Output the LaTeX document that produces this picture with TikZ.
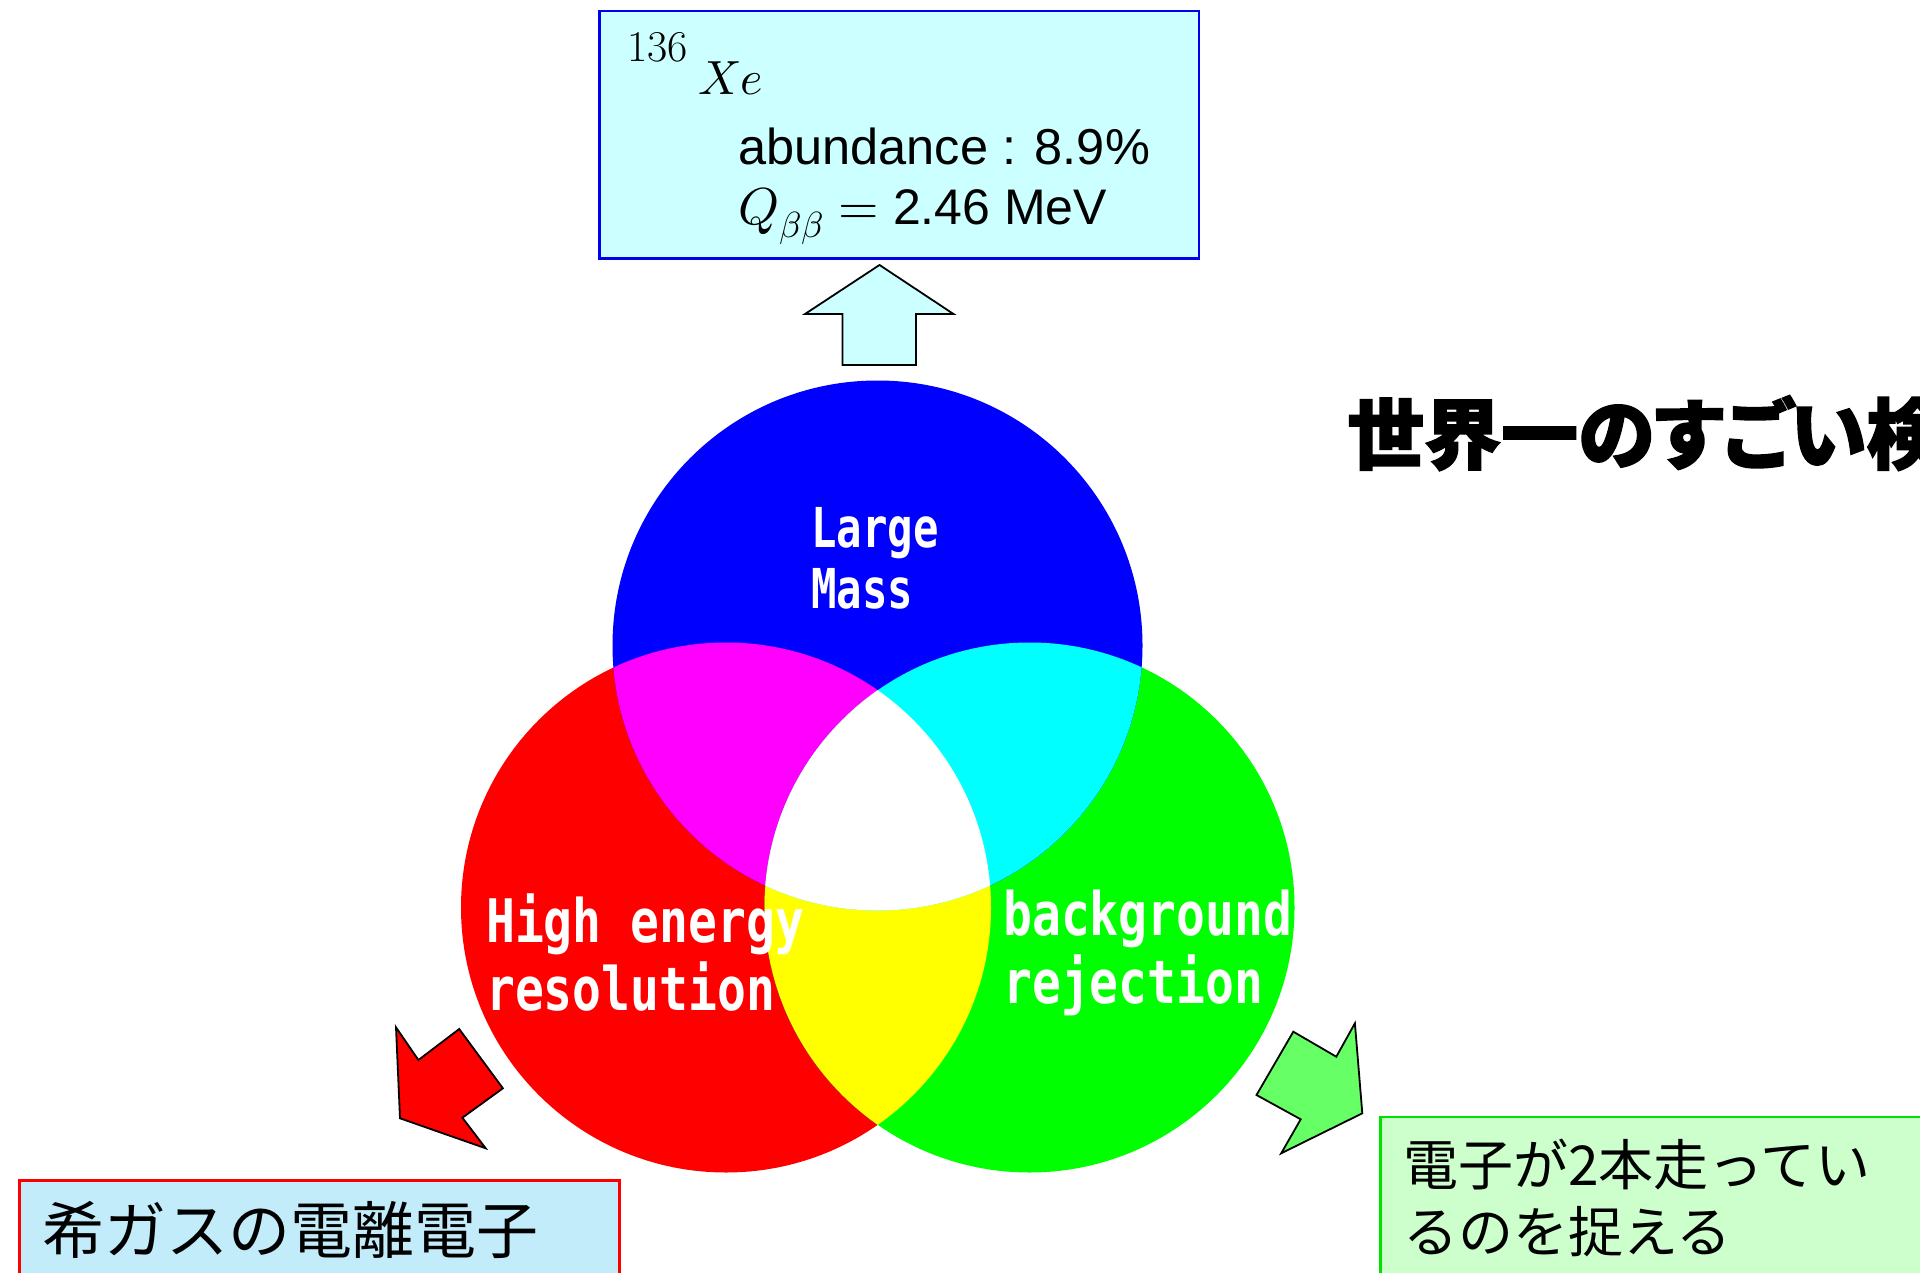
\documentclass[tikz,border=0pt]{standalone}
\usepackage{fontspec}
\usepackage{unicode-math}
\setmathfont{Latin Modern Math}
\newfontfamily\arial{Liberation Sans}
\newfontfamily\jpfont{Noto Sans CJK JP}
\newfontfamily\popfont{DejaVu Sans Mono}[FakeStretch=0.8]
\newfontfamily\popfontb{DejaVu Sans Mono}[FakeStretch=0.77]
\newfontfamily\headfont{Noto Sans CJK JP}[RawFeature=+palt,BoldFeatures={FakeBold=2}]
\definecolor{pred}{RGB}{255,0,0}
\definecolor{pgreen}{RGB}{0,255,0}
\definecolor{pblue}{RGB}{0,0,255}
\definecolor{pcyan}{RGB}{0,255,255}
\definecolor{pmag}{RGB}{255,0,255}
\definecolor{pyel}{RGB}{255,255,0}
\definecolor{topfill}{RGB}{204,255,255}
\definecolor{leftfill}{RGB}{194,236,250}
\definecolor{rightfill}{RGB}{204,255,204}
\definecolor{garrow}{RGB}{102,255,102}
\definecolor{gborder}{RGB}{0,225,0}
\definecolor{bborder}{RGB}{0,0,235}
\tikzset{
  infobox/.style={rectangle, line width=2.5pt, anchor=north west, inner sep=0pt},
  bigarrow/.style={draw=black, line width=1.8pt, line join=miter},
  circlabel/.style={text=white, anchor=base west, inner sep=0pt},
  plain/.style={anchor=base west, inner sep=0pt},
}
\begin{document}
\begin{tikzpicture}[x=1pt,y=-1pt]
\useasboundingbox (0,0) rectangle (1920,1273);
\clip (0,0) rectangle (1920,1273);
\fill[white] (0,0) rectangle (1920,1273);

% Venn circles
\coordinate (cb) at (877.5,645.5);
\coordinate (cr) at (726,907.5);
\coordinate (cg) at (1029.5,907.5);
\fill[pred] (cr) circle[radius=265pt];
\fill[pgreen] (cg) circle[radius=265pt];
\fill[pblue] (cb) circle[radius=265pt];
\begin{scope}
  \clip (cr) circle[radius=265pt];
  \fill[pmag] (cb) circle[radius=265pt];
  \fill[pyel] (cg) circle[radius=265pt];
\end{scope}
\begin{scope}
  \clip (cb) circle[radius=265pt];
  \fill[pcyan] (cg) circle[radius=265pt];
\end{scope}
\begin{scope}
  \clip (cr) circle[radius=265pt];
  \clip (cg) circle[radius=265pt];
  \fill[white] (cb) circle[radius=265pt];
\end{scope}

% circle labels
\node[circlabel, font=\popfontb\bfseries\fontsize{55}{60}\selectfont] (large) at (811,547) {Large};
\node[circlabel, font=\popfontb\bfseries\fontsize{55}{60}\selectfont] (mass) at (811,608) {Mass};
\node[circlabel, font=\popfont\bfseries\fontsize{60}{68}\selectfont] (high) at (486,942) {High energy};
\node[circlabel, font=\popfont\bfseries\fontsize{60}{68}\selectfont] (reso) at (486,1010) {resolution};
\node[circlabel, font=\popfont\bfseries\fontsize{60}{68}\selectfont] (bg) at (1003,935) {background};
\node[circlabel, font=\popfont\bfseries\fontsize{60}{68}\selectfont] (rej) at (1003,1003) {rejection};

% top box
\node[infobox, draw=bborder, fill=topfill, minimum width=599.5pt, minimum height=247.5pt] (topbox) at (598,10) {};
\node[plain, font=\fontsize{44}{48}\selectfont] (iso) at (627,62) {136};
\node[plain, font=\fontsize{48}{52}\selectfont] (xe) at (698,95) {$Xe$};
\node[plain, font=\arial\fontsize{50.5}{56}\selectfont] (abund) at (738,165) {abundance : 8.9\%};
\node[plain] (qbb) at (738,225) {{\fontsize{52}{56}\selectfont$Q_{\beta\beta} = {}$}{\arial\fontsize{50}{56}\selectfont 2.46 MeV}};

% up arrow
\draw[bigarrow, fill=topfill] (879.5,265) -- (953.5,314) -- (916,314) -- (916,365) -- (842.5,365) -- (842.5,314) -- (805,314) -- cycle;

% heading
\node[plain, font=\headfont\bfseries\fontsize{77}{80}\selectfont] (title) at (1347,463) {世界一のすごい検};

% red arrow
\draw[bigarrow, fill=pred] (396,1027.3) -- (418.4,1060) -- (459.2,1029) -- (502.9,1088.3) -- (462.4,1117.7) -- (485.7,1148.3) -- (400,1118.3) -- cycle;

% green arrow
\draw[bigarrow, fill=garrow] (1293.3,1031.7) -- (1336.3,1056.7) -- (1354.9,1023.3) -- (1362.3,1113.3) -- (1281.2,1153.3) -- (1300.7,1119.3) -- (1256.5,1095) -- cycle;

% bottom left box
\node[infobox, draw=pred, fill=leftfill, minimum width=600pt, minimum height=200pt] (leftbox) at (18,1179) {};
\node[plain, font=\jpfont\fontsize{62}{66}\selectfont] (ltext) at (42,1253) {希ガスの電離電子};

% bottom right box
\node[infobox, draw=gborder, fill=rightfill, minimum width=600pt, minimum height=250pt] (rightbox) at (1379,1115.5) {};
\node[plain, font=\jpfont\fontsize{55}{60}\selectfont] (rtext1) at (1403,1185) {電子が2本走ってい};
\node[plain, font=\jpfont\fontsize{55}{60}\selectfont] (rtext2) at (1403,1252) {るのを捉える};
\end{tikzpicture}
\end{document}
